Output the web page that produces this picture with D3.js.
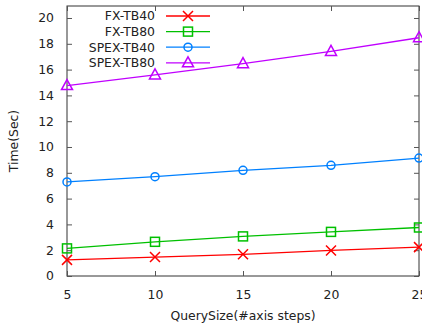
<!DOCTYPE html>
<html>
<head>
<meta charset="utf-8">
<script src="https://cdn.jsdelivr.net/npm/d3@7"></script>
<style>
  body { margin: 0; background: #fff; }
  text { font-family: "DejaVu Sans", sans-serif; fill: #222; }
</style>
</head>
<body>
<div id="chart"></div>
<script>
var querySizes = [5, 10, 15, 20, 25];
var seriesNames = ["FX-TB40", "FX-TB80", "SPEX-TB40", "SPEX-TB80"];
var fxTb40 = [1.25, 1.47, 1.68, 1.98, 2.24];
var fxTb80 = [2.14, 2.65, 3.07, 3.42, 3.76];
var spexTb40 = [7.29, 7.70, 8.19, 8.58, 9.14];
var spexTb80 = [14.76, 15.59, 16.46, 17.41, 18.47];
var yTicks = [0, 2, 4, 6, 8, 10, 12, 14, 16, 18, 20];

var colors = ["#ff0000", "#00c000", "#0080ff", "#c000ff"];
var shapes = ["cross", "square", "circle", "triangle"];
var allSeries = [fxTb40, fxTb80, spexTb40, spexTb80];

var width = 422, height = 324;
var margin = {top: 6, right: 3, bottom: 48, left: 67};

var svg = d3.select("#chart").append("svg")
  .attr("width", width)
  .attr("height", height);

var x = d3.scaleLinear().domain([5, 25]).range([margin.left, width - margin.right]);
var y = d3.scaleLinear().domain([0, 20.93]).range([height - margin.bottom, margin.top]);

// frame
svg.append("rect")
  .attr("x", x(5)).attr("y", y(20.93))
  .attr("width", x(25) - x(5)).attr("height", y(0) - y(20.93))
  .attr("fill", "none").attr("stroke", "#333").attr("stroke-width", 1);

var fs = "12.4px";

// axes with inward ticks
var yAxis = d3.axisLeft(y).tickValues(yTicks).tickSize(-5).tickPadding(13);
svg.append("g").attr("transform", "translate(" + x(5) + ",0)").call(yAxis)
  .call(function (g) { g.select(".domain").remove(); })
  .selectAll("text").style("font-size", fs).attr("fill", "#222");
svg.append("g").attr("transform", "translate(" + x(25) + ",0)")
  .call(d3.axisRight(y).tickValues(yTicks).tickSize(-5).tickFormat(""))
  .call(function (g) { g.select(".domain").remove(); });

var xAxis = d3.axisBottom(x).tickValues(querySizes).tickSize(-5).tickPadding(14);
svg.append("g").attr("transform", "translate(0," + y(0) + ")").call(xAxis)
  .call(function (g) { g.select(".domain").remove(); })
  .selectAll("text").style("font-size", fs).attr("fill", "#222");
svg.append("g").attr("transform", "translate(0," + y(20.93) + ")")
  .call(d3.axisTop(x).tickValues(querySizes).tickSize(-5).tickFormat(""))
  .call(function (g) { g.select(".domain").remove(); });

svg.selectAll(".tick line").attr("stroke", "#555");

// axis labels
svg.append("text")
  .attr("x", (x(5) + x(25)) / 2).attr("y", 320)
  .attr("text-anchor", "middle").style("font-size", fs)
  .text("QuerySize(#axis steps)");
svg.append("text")
  .attr("transform", "translate(18," + (y(0) + y(20.93)) / 2 + ") rotate(-90)")
  .attr("text-anchor", "middle").style("font-size", fs)
  .text("Time(Sec)");

function drawMarker(g, shape, color) {
  if (shape === "cross") {
    g.append("path").attr("d", "M-5,-5L5,5M-5,5L5,-5")
      .attr("stroke", color).attr("stroke-width", 1.5).attr("fill", "none");
  } else if (shape === "square") {
    g.append("rect").attr("x", -4.5).attr("y", -4.5).attr("width", 9).attr("height", 9)
      .attr("stroke", color).attr("stroke-width", 1.5).attr("fill", "none");
  } else if (shape === "circle") {
    g.append("circle").attr("r", 4)
      .attr("stroke", color).attr("stroke-width", 1.5).attr("fill", "none");
  } else {
    g.append("path").attr("d", "M0,-6L5.5,4L-5.5,4Z")
      .attr("stroke", color).attr("stroke-width", 1.5).attr("fill", "none");
  }
}

var line = d3.line()
  .x(function (d, i) { return x(querySizes[i]); })
  .y(function (d) { return y(d); });

allSeries.forEach(function (vals, k) {
  svg.append("path").datum(vals)
    .attr("d", line)
    .attr("fill", "none")
    .attr("stroke", colors[k])
    .attr("stroke-width", 1.3);
  vals.forEach(function (v, i) {
    var g = svg.append("g")
      .attr("transform", "translate(" + x(querySizes[i]) + "," + y(v) + ")");
    drawMarker(g, shapes[k], colors[k]);
  });
});

// legend
seriesNames.forEach(function (name, k) {
  var ly = 16 + k * 15.6;
  svg.append("text")
    .attr("x", 155).attr("y", ly).attr("dy", "0.35em")
    .attr("text-anchor", "end").style("font-size", fs)
    .text(name);
  svg.append("line")
    .attr("x1", 166).attr("x2", 210).attr("y1", ly).attr("y2", ly)
    .attr("stroke", colors[k]).attr("stroke-width", 1.3);
  var g = svg.append("g").attr("transform", "translate(188," + ly + ")");
  drawMarker(g, shapes[k], colors[k]);
});
</script>
</body>
</html>
